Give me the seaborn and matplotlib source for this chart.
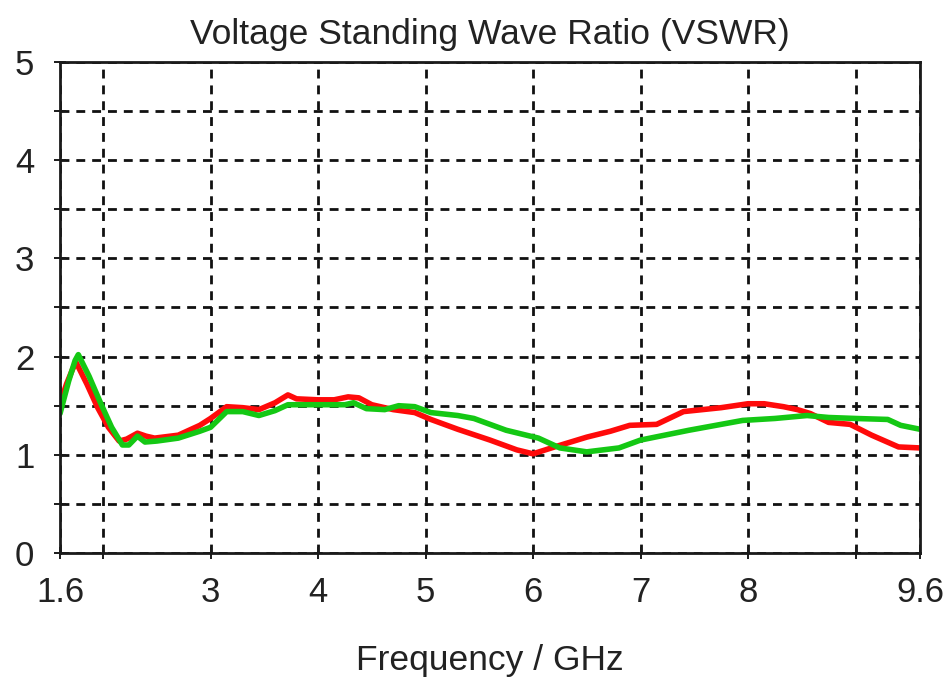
import matplotlib
matplotlib.use("Agg")
import matplotlib.pyplot as plt
from matplotlib.ticker import FixedLocator, NullFormatter
import seaborn as sns
import pandas as pd

# VSWR curves (frequency in GHz, VSWR)
freq_red = [1.60, 1.66, 1.72, 1.75, 1.85, 1.95, 2.05, 2.15, 2.22, 2.32, 2.40, 2.48,
            2.70, 2.90, 3.00, 3.15, 3.30, 3.45, 3.60, 3.72, 3.80, 4.00, 4.15, 4.28,
            4.38, 4.50, 4.70, 4.90, 5.05, 5.30, 5.60, 5.85, 6.00, 6.20, 6.50, 6.72,
            6.90, 7.15, 7.40, 7.75, 8.00, 8.15, 8.33, 8.46, 8.58, 8.75, 8.95, 9.15,
            9.40, 9.60]
vswr_red = [1.52, 1.72, 1.88, 1.94, 1.72, 1.48, 1.28, 1.14, 1.16, 1.22, 1.19, 1.17,
            1.20, 1.30, 1.37, 1.49, 1.48, 1.46, 1.53, 1.61, 1.57, 1.56, 1.56, 1.59,
            1.58, 1.51, 1.46, 1.43, 1.36, 1.26, 1.15, 1.05, 1.01, 1.08, 1.18, 1.24,
            1.30, 1.31, 1.44, 1.48, 1.52, 1.52, 1.49, 1.46, 1.42, 1.33, 1.31, 1.20,
            1.08, 1.07]

freq_green = [1.60, 1.68, 1.74, 1.77, 1.87, 1.98, 2.08, 2.18, 2.24, 2.32, 2.39, 2.50,
              2.70, 2.90, 3.00, 3.15, 3.30, 3.45, 3.60, 3.72, 4.00, 4.25, 4.33, 4.45,
              4.62, 4.75, 4.90, 5.05, 5.30, 5.45, 5.75, 6.05, 6.25, 6.50, 6.80, 7.00,
              7.45, 7.95, 8.25, 8.55, 8.75, 9.00, 9.30, 9.42, 9.60]
vswr_green = [1.42, 1.75, 1.96, 2.02, 1.80, 1.52, 1.28, 1.10, 1.10, 1.19, 1.13, 1.14,
              1.17, 1.24, 1.28, 1.44, 1.44, 1.40, 1.45, 1.51, 1.51, 1.51, 1.53, 1.47,
              1.46, 1.50, 1.49, 1.43, 1.40, 1.37, 1.25, 1.17, 1.07, 1.03, 1.07, 1.15,
              1.25, 1.35, 1.37, 1.40, 1.38, 1.37, 1.36, 1.30, 1.26]

x_major = [1.6, 3, 4, 5, 6, 7, 8, 9.6]
x_major_labels = ["1.6", "3", "4", "5", "6", "7", "8", "9.6"]
x_minor = [2, 9]
y_major = [0, 1, 2, 3, 4, 5]
y_minor = [0.5, 1.5, 2.5, 3.5, 4.5]

title_text = "Voltage Standing Wave Ratio (VSWR)"
xlabel_text = "Frequency / GHz"

sns.set_theme(style="white")
plt.rcParams["font.family"] = ["Liberation Sans", "DejaVu Sans"]

fig = plt.figure(figsize=(9.47, 6.84), dpi=100)
ax = fig.add_axes([0.0634, 0.1915, 0.9081, 0.7179])

df_red = pd.DataFrame({"f": freq_red, "v": vswr_red})
df_green = pd.DataFrame({"f": freq_green, "v": vswr_green})
sns.lineplot(data=df_red, x="f", y="v", ax=ax, color="#ff0a0a", linewidth=4.0, zorder=4)
sns.lineplot(data=df_green, x="f", y="v", ax=ax, color="#14c814", linewidth=4.0, zorder=5)

ax.set_xlim(1.6, 9.6)
ax.set_ylim(0, 5)

ax.xaxis.set_major_locator(FixedLocator(x_major))
ax.set_xticklabels(x_major_labels)
ax.xaxis.set_minor_locator(FixedLocator(x_minor))
ax.xaxis.set_minor_formatter(NullFormatter())
ax.yaxis.set_major_locator(FixedLocator(y_major))
ax.set_yticklabels([str(v) for v in y_major])
ax.yaxis.set_minor_locator(FixedLocator(y_minor))
ax.yaxis.set_minor_formatter(NullFormatter())

ax.grid(True, which="both", color="#111111", linewidth=2.0,
        linestyle=(0, (3.2, 2.5)))
ax.set_axisbelow(False)

for side, sp in ax.spines.items():
    sp.set_visible(True)
    sp.set_color("#1a1a1a")
    sp.set_linewidth(2.0)
    sp.set_zorder(6)

ax.tick_params(axis="both", which="both", direction="inout", length=9,
               width=1.4, color="#1a1a1a", labelsize=25, labelcolor="#222222",
               bottom=True, left=True, top=False, right=False)
ax.tick_params(axis="y", which="both", pad=14)
ax.tick_params(axis="x", which="both", pad=12)

ax.set_title(title_text, fontsize=25.5, color="#222222", pad=13)
ax.set_xlabel(xlabel_text, fontsize=25.5, color="#222222", labelpad=25)
ax.set_ylabel("")

fig.savefig("out.png", dpi=100)
